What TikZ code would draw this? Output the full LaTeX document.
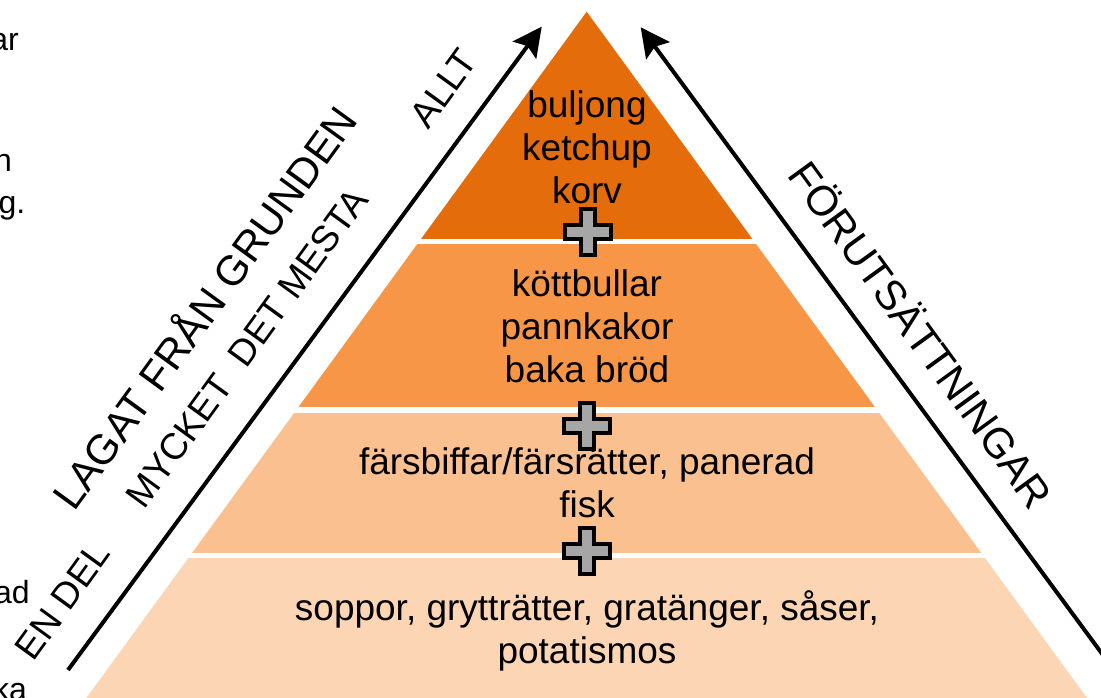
\documentclass[tikz,border=0pt]{standalone}
\usepackage{fontspec}
\setmainfont{Liberation Sans}
\usetikzlibrary{arrows.meta}

\definecolor{tierone}{HTML}{E46C0A}
\definecolor{tiertwo}{HTML}{F79646}
\definecolor{tierthree}{HTML}{FAC090}
\definecolor{tierfour}{HTML}{FCD5B5}
\definecolor{plusgray}{HTML}{A6A6A6}

\tikzset{
  tiertext/.style={align=center,inner sep=0pt,font=\fontsize{37}{43}\selectfont,
    execute at begin node=\strut,execute at end node=\strut},
  sidelabel/.style={inner sep=0pt,font=\fontsize{37}{43}\selectfont},
  cuttext/.style={inner sep=0pt,anchor=base east,font=\fontsize{32}{38}\selectfont},
  arr/.style={line width=4pt,-{Stealth[length=29pt,width=29pt,inset=5pt]}},
  pics/plussign/.style={code={
    \draw[line width=4pt,fill=plusgray] (-7,-23) -- (7,-23) -- (7,-7) -- (23,-7) -- (23,7) -- (7,7)
      -- (7,23) -- (-7,23) -- (-7,7) -- (-23,7) -- (-23,-7) -- (-7,-7) -- cycle;
  }}
}

\begin{document}
\begin{tikzpicture}[x=1pt,y=-1pt]
\clip (0,0) rectangle (1101,697);

% pyramid
\coordinate (top) at (586.7,11.7);
\coordinate (bl) at (70.3,720);
\coordinate (br) at (1103.1,720);
\begin{scope}
\clip (top) -- (bl) -- (br) -- cycle;
\fill[tierone] (0,0) rectangle (1101,239.3);
\fill[tiertwo] (0,244.3) rectangle (1101,406.7);
\fill[tierthree] (0,412.7) rectangle (1101,553);
\fill[tierfour] (0,558) rectangle (1101,720);
\end{scope}

\node[tiertext] (t1) at (587,154) {buljong\\ketchup\\korv};
\node[tiertext] (t2) at (587,333) {köttbullar\\pannkakor\\baka bröd};
\node[tiertext] (t3) at (587,489) {färsbiffar/färsrätter, panerad\\fisk};
\node[tiertext] (t4) at (587,634) {soppor, grytträtter, gratänger, såser,\\potatismos};

\pic (p1) at (588,232) {plussign};
\pic (p2) at (587,426) {plussign};
\pic (p3) at (587,551) {plussign};

% arrows
\coordinate (lfoot) at (68,670);
\coordinate (ltip) at (541.7,26.7);
\coordinate (rfoot) at (1114,670);
\coordinate (rtip) at (640.7,27.3);
\draw[arr] (lfoot) -- (ltip);
\draw[arr] (rfoot) -- (rtip);

\node[sidelabel,font=\fontsize{42}{48}\selectfont,rotate=54] (lagat) at (202.5,306) {LAGAT FRÅN GRUNDEN};
\node[sidelabel,rotate=54] (mycket) at (246.5,348) {MYCKET~~DET MESTA};
\node[sidelabel,rotate=54] (allt) at (443.5,88) {ALLT};
\node[sidelabel,rotate=54] (endel) at (62.5,600.5) {EN DEL};
\node[sidelabel,font=\fontsize{42}{48}\selectfont,rotate=-54] (forut) at (922.5,333.5) {FÖRUTSÄTTNINGAR};

% text cut at the left edge
\node[cuttext] (c1) at (19,50) {ar};
\node[cuttext] (c2) at (12,171) {n};
\node[cuttext] (c3) at (25.5,213) {g.};
\node[cuttext] (c4) at (30,603) {ad};
\node[cuttext] (c5) at (27,700) {ka};

\end{tikzpicture}
\end{document}
